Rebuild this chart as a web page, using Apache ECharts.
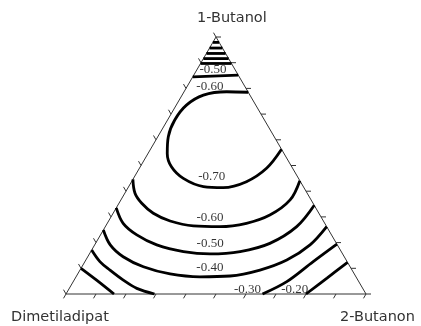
<!DOCTYPE html>
<html>
<head>
<meta charset="utf-8">
<script src="https://cdn.jsdelivr.net/npm/echarts@6/dist/echarts.min.js"></script>
<style>
  html, body { margin: 0; padding: 0; background: #ffffff; }
  #chart { width: 421px; height: 326px; }
</style>
</head>
<body>
<div id="chart"></div>
<script>
// Mixture components at the corners: top, bottom-right, bottom-left
const componentNames = ['1-Butanol', '2-Butanon', 'Dimetiladipat'];

// Contour levels of the response surface
const contourLevels = [-0.70, -0.60, -0.50, -0.40, -0.30, -0.20, -0.10];

// Contour traces as [1-Butanol, 2-Butanon] fractions; Dimetiladipat = 1 - both
const level070 = [[0.785, 0.215], [0.787, 0.142], [0.774, 0.071], [0.735, 0.034], [0.677, 0.024],
  [0.612, 0.035], [0.547, 0.064], [0.495, 0.104], [0.450, 0.166], [0.418, 0.249], [0.414, 0.317],
  [0.437, 0.383], [0.489, 0.424], [0.563, 0.437]];
const level060 = [[0.446, 0], [0.392, 0.034], [0.353, 0.076], [0.314, 0.134], [0.284, 0.205],
  [0.265, 0.292], [0.262, 0.382], [0.275, 0.464], [0.307, 0.526], [0.366, 0.564], [0.441, 0.559]];
const level050 = [[0.335, 0], [0.275, 0.053], [0.230, 0.121], [0.191, 0.207], [0.165, 0.309],
  [0.156, 0.402], [0.165, 0.498], [0.197, 0.581], [0.262, 0.638], [0.345, 0.655]];
const level040 = [[0.249, 0], [0.191, 0.052], [0.145, 0.118], [0.106, 0.205], [0.078, 0.308],
  [0.067, 0.413], [0.070, 0.512], [0.093, 0.600], [0.132, 0.670], [0.191, 0.718], [0.262, 0.738]];
const level030Left = [[0.171, 0], [0.126, 0.050], [0.093, 0.100], [0.054, 0.164], [0.022, 0.225], [0, 0.295]];
const level030Right = [[0, 0.655], [0.048, 0.712], [0.126, 0.761], [0.194, 0.806]];
const level020Left = [[0.100, 0], [0.054, 0.075], [0, 0.160]];
const level020Right = [[0, 0.800], [0.062, 0.839], [0.123, 0.877]];

// Short contours crossing the 1-Butanol corner
const level060Top = [[0.845, 0], [0.852, 0.148]];
const level050Top = [[0.897, 0], [0.897, 0.103]];
const level040Top = [[0.916, 0], [0.916, 0.084]];
const level030Top = [[0.936, 0], [0.936, 0.064]];
const level020Top = [[0.957, 0], [0.957, 0.043]];
const level010Top = [[0.979, 0], [0.979, 0.021]];

// Axis ticks along every side
const tickValues = [0, 0.1, 0.2, 0.3, 0.4, 0.5, 0.6, 0.7, 0.8, 0.9, 1.0];

const H = Math.sqrt(3) / 2;
// ternary (1-Butanol, 2-Butanon) -> cartesian plane of the triangle
function toXY(a, b) { return [b + a / 2, a * H]; }

const contourTraces = [
  [level070, -0.70], [level060, -0.60], [level050, -0.50], [level040, -0.40],
  [level030Left, -0.30], [level030Right, -0.30], [level020Left, -0.20], [level020Right, -0.20],
  [level060Top, -0.60], [level050Top, -0.50], [level040Top, -0.40], [level030Top, -0.30],
  [level020Top, -0.20], [level010Top, -0.10]
];

// where each contour value is written, in ternary coordinates
const labelPlacement = [
  { level: -0.70, at: [0.456, 0.258] },
  { level: -0.60, at: [0.298, 0.331] },
  { level: -0.50, at: [0.195, 0.383] },
  { level: -0.40, at: [0.101, 0.429] },
  { level: -0.30, at: [0.0175, 0.596] },
  { level: -0.20, at: [0.0175, 0.754] },
  { level: -0.50, at: [0.872, 0.054] },
  { level: -0.60, at: [0.807, 0.076] }
];

const series = [];

// triangle frame
series.push({
  type: 'line',
  data: [toXY(0, 0), toXY(0, 1), toXY(1, 0), toXY(0, 0)],
  symbol: 'none',
  clip: false,
  lineStyle: { color: '#333', width: 1 },
  silent: true,
  z: 2
});

// ticks: side 0 = bottom, 1 = right, 2 = left
const tickData = [];
for (let s = 0; s < 3; s++) tickValues.forEach(t => tickData.push([s, t]));
const tickDir = [[-0.5, 0.866], [1, 0], [-0.5, -0.866]];
const tickLen = 5;
series.push({
  type: 'custom',
  data: tickData,
  clip: false,
  silent: true,
  z: 2,
  renderItem: function (params, api) {
    const s = api.value(0), t = api.value(1);
    let a, b;
    if (s === 0) { a = 0; b = t; }
    else if (s === 1) { a = t; b = 1 - t; }
    else { a = 1 - t; b = 0; }
    const p = api.coord(toXY(a, b));
    const d = tickDir[s];
    return {
      type: 'line',
      shape: { x1: p[0], y1: p[1], x2: p[0] + d[0] * tickLen, y2: p[1] + d[1] * tickLen },
      style: { stroke: '#333', lineWidth: 1 }
    };
  }
});

// contour lines
contourTraces.forEach(([trace, level]) => {
  series.push({
    type: 'line',
    name: level.toFixed(2),
    data: trace.map(p => toXY(p[0], p[1])),
    symbol: 'none',
    smooth: 0.35,
    clip: false,
    silent: true,
    lineStyle: { color: '#000', width: 2.8 },
    z: 3
  });
});

// contour values
series.push({
  type: 'scatter',
  symbolSize: 0,
  silent: true,
  z: 4,
  data: labelPlacement.map(l => {
    const xy = toXY(l.at[0], l.at[1]);
    return { value: xy, name: l.level.toFixed(2) };
  }),
  label: {
    show: true,
    position: 'inside',
    formatter: p => p.name,
    fontFamily: '"Liberation Serif", "DejaVu Serif", serif',
    fontSize: 13,
    color: '#000'
  }
});

const chart = echarts.init(document.getElementById('chart'), null, { renderer: 'canvas' });
chart.setOption({
  animation: false,
  backgroundColor: '#ffffff',
  grid: { left: 66, top: 37, width: 300, height: 257 },
  xAxis: { type: 'value', min: 0, max: 1, show: false },
  yAxis: { type: 'value', min: 0, max: H, show: false },
  graphic: [
    { type: 'text', x: 197, y: 18, style: { text: componentNames[0], fill: '#333', font: '14.5px "DejaVu Sans", sans-serif', verticalAlign: 'middle' } },
    { type: 'text', x: 340, y: 317, style: { text: componentNames[1], fill: '#333', font: '14.5px "DejaVu Sans", sans-serif', verticalAlign: 'middle' } },
    { type: 'text', x: 11, y: 317, style: { text: componentNames[2], fill: '#333', font: '14.5px "DejaVu Sans", sans-serif', verticalAlign: 'middle' } }
  ],
  series: series
});
</script>
</body>
</html>
